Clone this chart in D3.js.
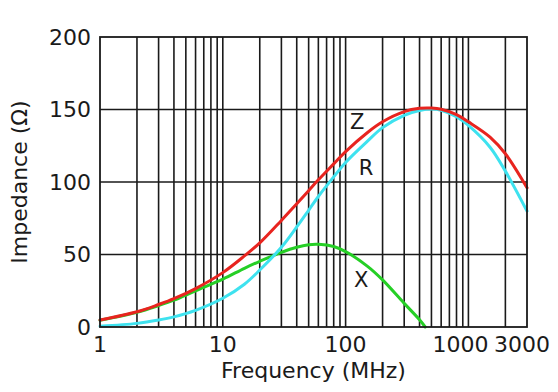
<!DOCTYPE html>
<html>
<head>
<meta charset="utf-8">
<script src="https://cdn.jsdelivr.net/npm/d3@7"></script>
<style>
  body { margin: 0; background: #fff; }
  text { font-family: "DejaVu Sans", sans-serif; fill: #1a1a1a; }
</style>
</head>
<body>
<div id="wrapper"></div>
<script>
// data
const freqs = [1, 2, 3, 4, 6, 10, 15, 20, 30, 40, 50, 60, 80, 100, 150, 200, 300, 400, 500, 600, 800, 1000, 1500, 2000, 3000]
const zValues = [4.8, 10.5, 15.5, 19.5, 26.5, 37.5, 49, 58, 73.5, 85, 94, 101.5, 112.5, 121, 134, 141.5, 148.5, 150.8, 151, 150.2, 146.5, 141.5, 131, 119.5, 96]
const rValues = [0.6, 2.5, 4.8, 7, 11.5, 19.8, 29.5, 39.3, 55, 69, 80.5, 90, 103.5, 113.5, 128, 137.5, 146, 149.3, 150.3, 149.5, 145, 139, 124, 107.5, 80]
const xFreqs = [1, 2, 3, 4, 6, 10, 15, 20, 30, 40, 50, 60, 80, 100, 150, 200, 300, 400, 445]
const xValues = [4.7, 10.2, 14.8, 18.5, 25, 33, 40.5, 45.3, 51.5, 55, 56.7, 57, 55.5, 52, 42, 32.5, 16.3, 5, 0]

const xTickValues = [1, 10, 100, 1000, 3000]
const yTickValues = [0, 50, 100, 150, 200]
const xGridValues = [2, 3, 4, 5, 6, 7, 8, 9, 10, 20, 30, 40, 50, 60, 70, 80, 90, 100,
  200, 300, 400, 500, 600, 700, 800, 900, 1000, 2000]

const curveLabels = [
  { name: "Z", f: 124, v: 142 },
  { name: "R", f: 147, v: 110 },
  { name: "X", f: 134, v: 32.5 },
]

function drawChart() {
  let dimensions = {
    width: 558,
    height: 392,
    margin: { top: 37, right: 31, bottom: 65, left: 100 },
  }
  dimensions.boundedWidth = dimensions.width - dimensions.margin.left - dimensions.margin.right
  dimensions.boundedHeight = dimensions.height - dimensions.margin.top - dimensions.margin.bottom

  const wrapper = d3.select("#wrapper")
    .append("svg")
    .attr("width", dimensions.width)
    .attr("height", dimensions.height)

  const bounds = wrapper.append("g")
    .attr("transform", `translate(${dimensions.margin.left},${dimensions.margin.top})`)

  const xScale = d3.scaleLog()
    .domain([1, 3000])
    .range([0, dimensions.boundedWidth])

  const yScale = d3.scaleLinear()
    .domain([0, 200])
    .range([dimensions.boundedHeight, 0])

  // grid
  const grid = bounds.append("g")
    .attr("stroke", "#1a1a1a")
    .attr("stroke-width", 1.6)

  grid.selectAll(".vgrid")
    .data(xGridValues)
    .join("line")
    .attr("x1", d => xScale(d))
    .attr("x2", d => xScale(d))
    .attr("y1", 0)
    .attr("y2", dimensions.boundedHeight)

  grid.selectAll(".hgrid")
    .data(yTickValues.slice(1, -1))
    .join("line")
    .attr("x1", 0)
    .attr("x2", dimensions.boundedWidth)
    .attr("y1", d => yScale(d))
    .attr("y2", d => yScale(d))

  // curves
  const lineGen = d3.line()
    .x(d => xScale(d[0]))
    .y(d => yScale(d[1]))
    .curve(d3.curveCatmullRom.alpha(0.5))

  const series = [
    { pts: d3.zip(xFreqs, xValues), color: "#25cf25" },
    { pts: d3.zip(freqs, rValues), color: "#3ee2ef" },
    { pts: d3.zip(freqs, zValues), color: "#e8241f" },
  ]

  bounds.selectAll(".curve")
    .data(series)
    .join("path")
    .attr("fill", "none")
    .attr("stroke", d => d.color)
    .attr("stroke-width", 3)
    .attr("stroke-linecap", "round")
    .attr("d", d => lineGen(d.pts))

  // frame
  bounds.append("rect")
    .attr("width", dimensions.boundedWidth)
    .attr("height", dimensions.boundedHeight)
    .attr("fill", "none")
    .attr("stroke", "#1a1a1a")
    .attr("stroke-width", 1.8)

  // curve labels
  bounds.selectAll(".clabel")
    .data(curveLabels)
    .join("text")
    .attr("x", d => xScale(d.f))
    .attr("y", d => yScale(d.v))
    .attr("text-anchor", "middle")
    .attr("dy", "0.36em")
    .style("font-size", "21px")
    .text(d => d.name)

  // tick labels
  const xShift = { 1000: -8, 3000: -5 }
  bounds.selectAll(".xtick")
    .data(xTickValues)
    .join("text")
    .attr("x", d => xScale(d) + (xShift[d] || 0))
    .attr("y", dimensions.boundedHeight + 25)
    .attr("text-anchor", "middle")
    .style("font-size", "22px")
    .text(d => d)

  bounds.selectAll(".ytick")
    .data(yTickValues)
    .join("text")
    .attr("x", -9)
    .attr("y", d => yScale(d))
    .attr("dy", "0.36em")
    .attr("text-anchor", "end")
    .style("font-size", "22px")
    .text(d => d)

  // axis titles
  wrapper.append("text")
    .attr("x", dimensions.margin.left + dimensions.boundedWidth / 2)
    .attr("y", 378)
    .attr("text-anchor", "middle")
    .style("font-size", "22px")
    .text("Frequency (MHz)")

  wrapper.append("text")
    .attr("transform", `translate(27,${dimensions.margin.top + dimensions.boundedHeight / 2}) rotate(-90)`)
    .attr("text-anchor", "middle")
    .style("font-size", "22px")
    .text("Impedance (Ω)")
}

drawChart()
</script>
</body>
</html>
